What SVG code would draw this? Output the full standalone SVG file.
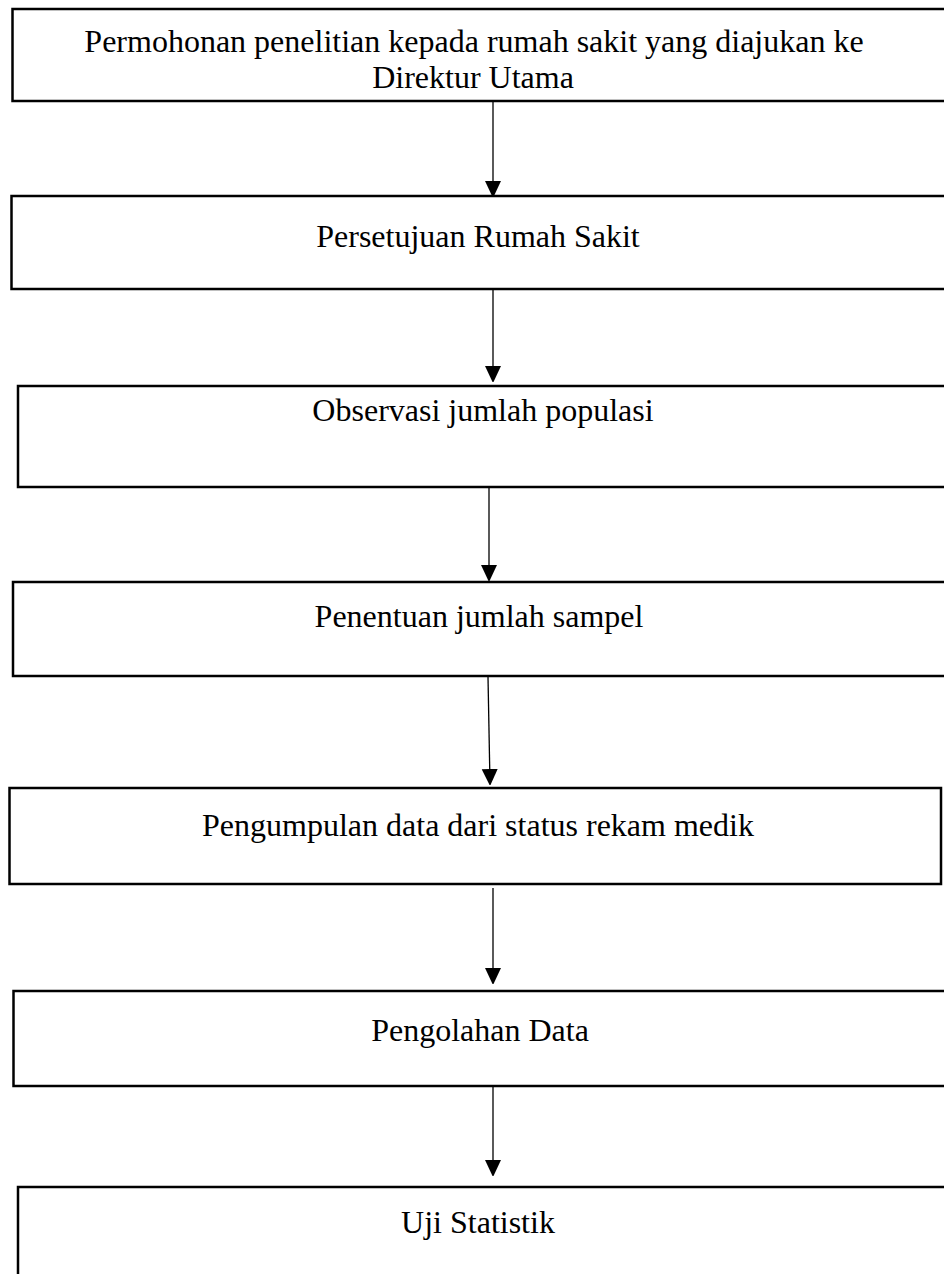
<svg xmlns="http://www.w3.org/2000/svg" width="944" height="1274" viewBox="0 0 944 1274">
<style>
.box{fill:#fff;stroke:#000;stroke-width:2.5}
.lbl{font-family:"Liberation Serif","Times New Roman",serif;font-size:32px;fill:#000;text-anchor:middle}
.con{stroke:#000;stroke-width:1.3;fill:none}
</style>
<defs>
<marker id="ah" markerUnits="userSpaceOnUse" markerWidth="16" markerHeight="18" refX="15" refY="8" orient="auto">
<path d="M0,0 L17,8 L0,16 Z" fill="#000"/>
</marker>
</defs>
<rect width="944" height="1274" fill="#fff"/>
<g id="n1"><rect class="box" x="12.5" y="9" width="945" height="92"/>
<text class="lbl" x="474" y="52">Permohonan penelitian kepada rumah sakit yang diajukan ke</text>
<text class="lbl" x="473" y="88">Direktur Utama</text></g>
<g id="n2"><rect class="box" x="11.5" y="196" width="945" height="93"/>
<text class="lbl" x="478" y="247">Persetujuan Rumah Sakit</text></g>
<g id="n3"><rect class="box" x="18" y="386" width="945" height="101"/>
<text class="lbl" x="483" y="421">Observasi jumlah populasi</text></g>
<g id="n4"><rect class="box" x="13" y="582" width="945" height="94"/>
<text class="lbl" x="479" y="627">Penentuan jumlah sampel</text></g>
<g id="n5"><rect class="box" x="9.5" y="788" width="931.5" height="96"/>
<text class="lbl" x="478" y="836">Pengumpulan data dari status rekam medik</text></g>
<g id="n6"><rect class="box" x="13.5" y="991" width="945" height="95"/>
<text class="lbl" x="480" y="1041">Pengolahan Data</text></g>
<g id="n7"><rect class="box" x="18" y="1187" width="945" height="120"/>
<text class="lbl" x="478" y="1233">Uji Statistik</text></g>
<g id="connectors">
<line class="con" x1="493" y1="102" x2="493" y2="196" marker-end="url(#ah)"/>
<line class="con" x1="493" y1="290" x2="493" y2="381" marker-end="url(#ah)"/>
<line class="con" x1="489" y1="488" x2="489" y2="580" marker-end="url(#ah)"/>
<line class="con" x1="488" y1="677" x2="490" y2="784" marker-end="url(#ah)"/>
<line class="con" x1="493" y1="888" x2="493" y2="983" marker-end="url(#ah)"/>
<line class="con" x1="493" y1="1087" x2="493" y2="1175" marker-end="url(#ah)"/>
</g>
</svg>
